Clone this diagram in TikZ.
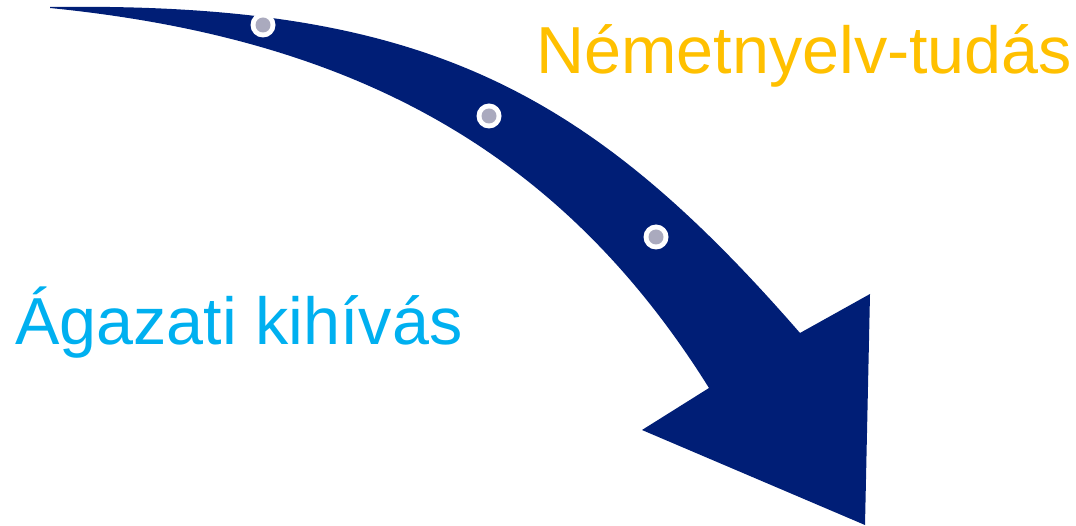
\documentclass[tikz,border=0pt]{standalone}
\usepackage{fontspec}
\setmainfont{Liberation Sans}
\definecolor{navy}{RGB}{0,30,118}
\definecolor{dotgray}{RGB}{170,170,190}
\definecolor{goldtxt}{RGB}{255,192,0}
\definecolor{bluetxt}{RGB}{0,176,240}
\tikzset{
  dotring/.style={circle, fill=white, minimum size=25pt, inner sep=0pt},
  dotcore/.style={circle, fill=dotgray, minimum size=15pt, inner sep=0pt},
  lbl/.style={anchor=base west, inner sep=0pt, font=\fontsize{66.5}{70}\selectfont}
}
\begin{document}
\begin{tikzpicture}[x=1pt,y=-1pt]
\useasboundingbox (0,0) rectangle (1076,526);
\fill[navy] (50,7) .. controls (420,2) and (585,86) .. (800,333)
  -- (870,294) -- (865,525) -- (642,430) -- (709,388)
  .. controls (559,148) and (350,38) .. (50,8) -- cycle;
\foreach \n/\p in {d1/{(263,25)}, d2/{(489,116)}, d3/{(656,237)}} {
  \node[dotring] (\n) at \p {};
  \node[dotcore] at (\n) {};
}
\node[lbl, text=goldtxt] (t1) at (536,74) {Németnyelv-tudás};
\node[lbl, text=bluetxt] (t2) at (15,345) {Ágazati kihívás};
\end{tikzpicture}
\end{document}
